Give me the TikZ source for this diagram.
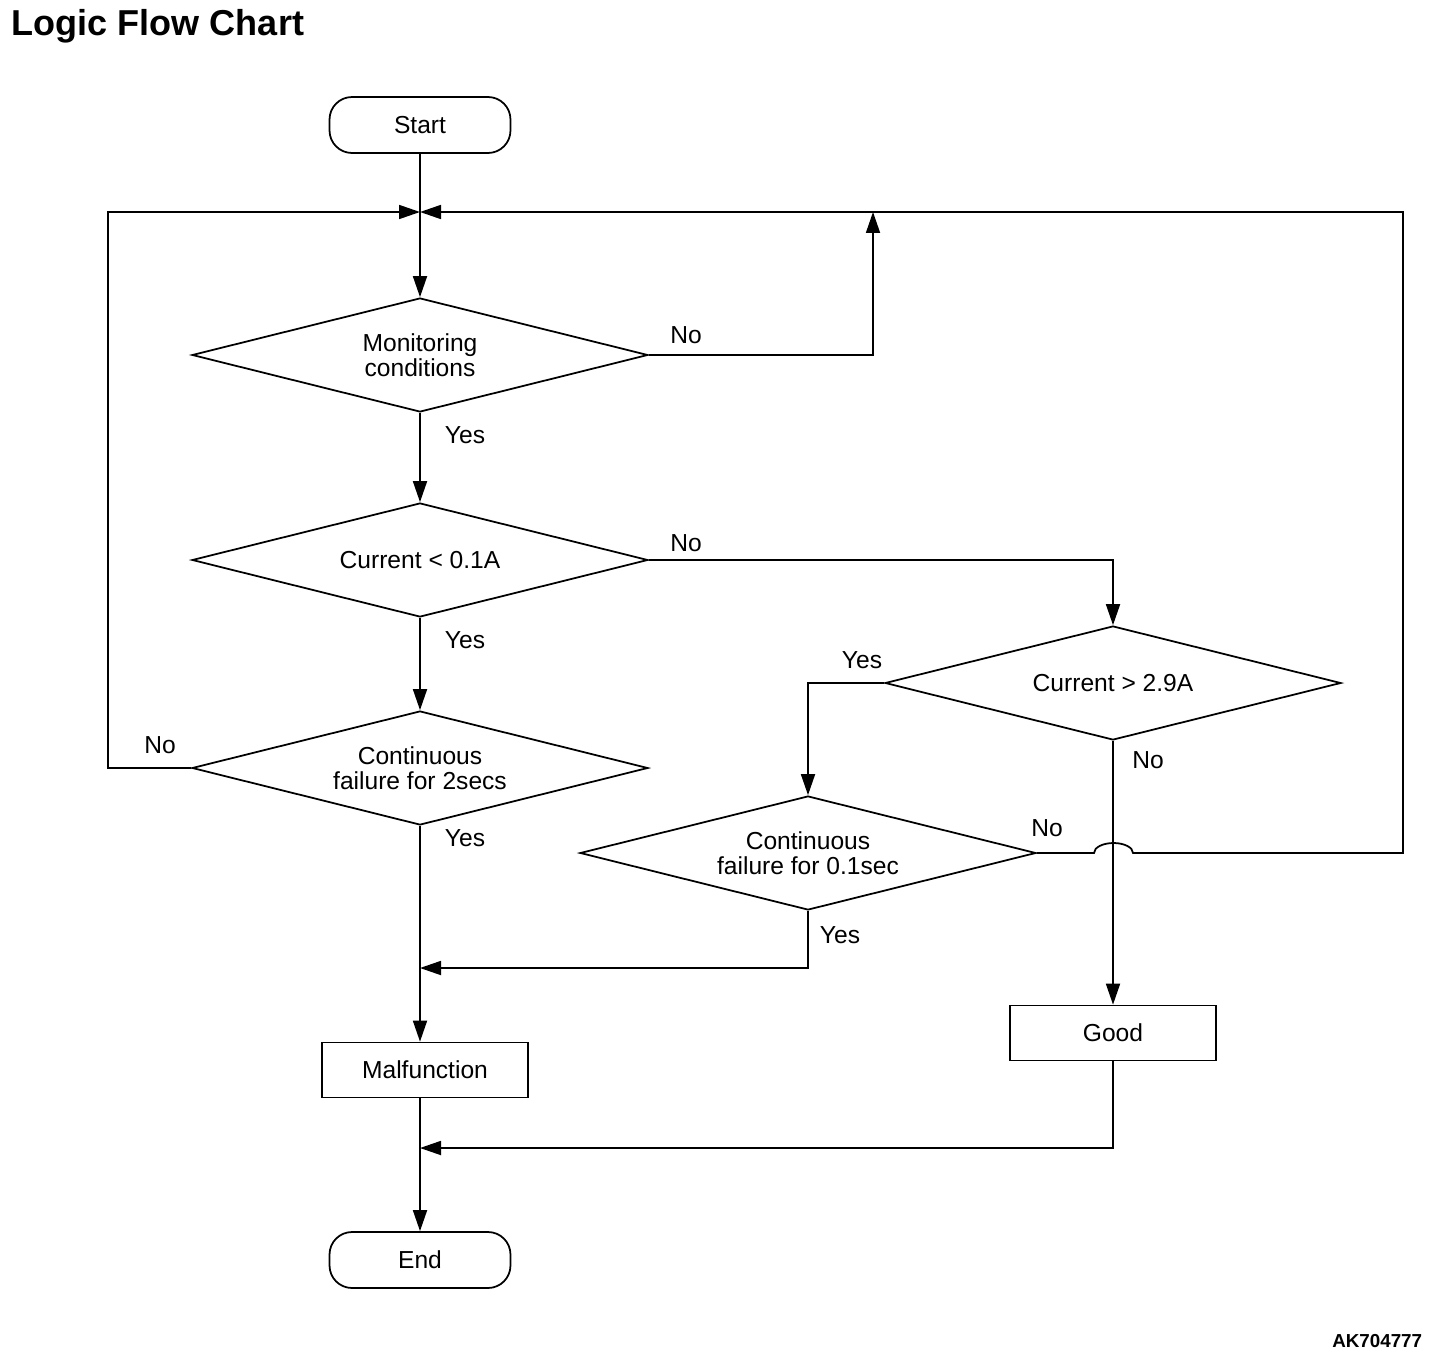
\documentclass[tikz,border=0pt]{standalone}
\usepackage{fontspec}
\setmainfont{Liberation Sans}
\usetikzlibrary{shapes.geometric,arrows.meta}

\begin{document}
\begin{tikzpicture}[x=0.02cm,y=-0.02cm,line width=1pt,
  every node/.style={font=\fontsize{14}{14.2}\selectfont},
  decision/.style={draw,diamond,aspect=4,minimum width=9.12cm,minimum height=2.28cm,inner sep=0pt,align=center},
  terminal/.style={draw,rectangle,rounded corners=0.45cm,minimum width=3.62cm,minimum height=1.12cm},
  process/.style={draw,rectangle,minimum width=4.12cm,minimum height=1.1cm},
  flow/.style={-{Triangle[length=0.42cm,width=0.28cm]}}]
    \useasboundingbox (0,0) rectangle (1456,1362);

    \node (title) at (11,36) [anchor=base west,inner sep=0pt,font=\bfseries\fontsize{20.5}{24}\selectfont] {Logic Flow Chart};
    \node (code) at (1423,1347) [anchor=base east,inner sep=0pt,font=\bfseries\fontsize{10.7}{12}\selectfont] {AK704777};

    \node (start) at (420,125) [terminal] {Start};
    \coordinate (join) at (420,212);
    \node (mon) at (420,355) [decision] {Monitoring\\conditions};
    \node (lo) at (420,560) [decision] {Current < 0.1A};
    \node (two) at (420,768) [decision] {Continuous\\failure for 2secs};
    \node (hi) at (1113,683) [decision] {Current > 2.9A};
    \node (tenth) at (808,853) [decision] {Continuous\\failure for 0.1sec};
    \node (bad) at (425,1070) [process] {Malfunction};
    \node (good) at (1113,1033) [process] {Good};
    \node (end) at (420,1260) [terminal] {End};

    \coordinate (upno) at (873,212);
    \coordinate (m1) at (420,968);
    \coordinate (m2) at (420,1148);

    \draw[flow] (start) -- (mon);
    \draw[flow] (mon) -- (lo);
    \draw[flow] (lo) -- (two);
    \draw[flow] (two.south) -- (two.south |- bad.north);
    \draw[flow] (two.south |- bad.south) -- (end);
    \draw[flow] (mon.east) -| (upno);
    \draw[flow] (two.west) -- (108,768) |- (join);
    \draw[flow] (lo.east) -| (hi.north);
    \draw[flow] (hi.west) -| (tenth.north);
    \draw[flow] (hi) -- (good);
    \draw[flow] (tenth.east) -- (1094,853) arc[start angle=180,end angle=0,x radius=0.39cm,y radius=0.2cm] -- (1403,853) |- (join);
    \draw[flow] (tenth.south) |- (m1);
    \draw[flow] (good.south) |- (m2);

    \node (nomon) at (686,335) {No};
    \node (yesmon) at (465,435) {Yes};
    \node (nolo) at (686,543) {No};
    \node (yeslo) at (465,640) {Yes};
    \node (notwo) at (160,745) {No};
    \node (yestwo) at (465,838) {Yes};
    \node (yeshi) at (862,660) {Yes};
    \node (nohi) at (1148,760) {No};
    \node (notenth) at (1047,828) {No};
    \node (yestenth) at (840,935) {Yes};
\end{tikzpicture}
\end{document}
